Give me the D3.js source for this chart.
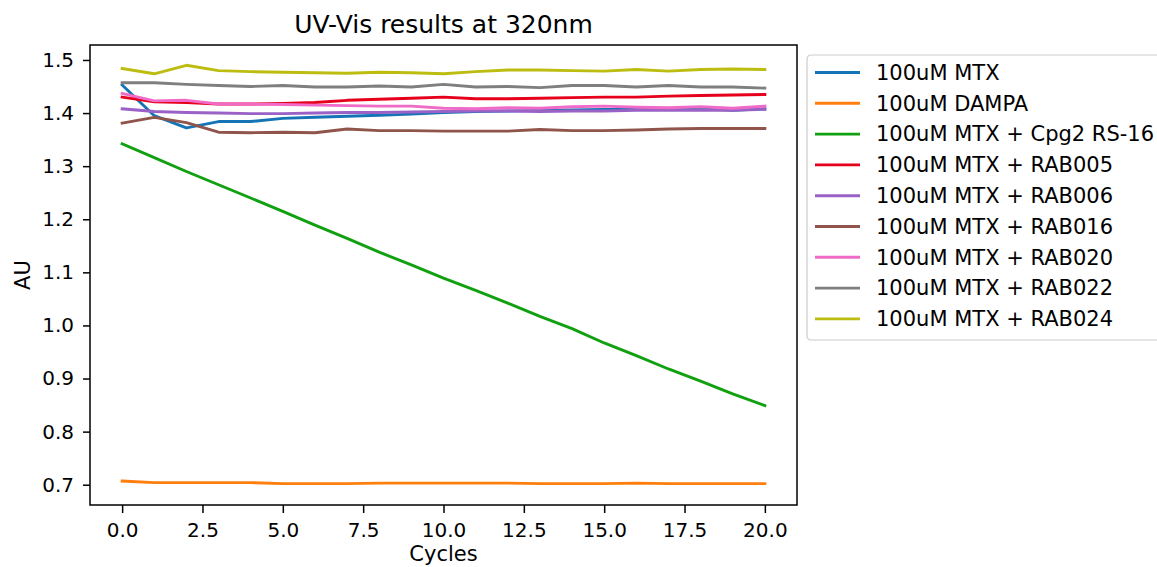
<!DOCTYPE html>
<html>
<head>
<meta charset="utf-8">
<script src="https://cdn.jsdelivr.net/npm/d3@7"></script>
<style>
  body { margin: 0; background: #fff; }
  text { font-family: "DejaVu Sans", sans-serif; fill: #000; }
</style>
</head>
<body>
<svg id="chart"></svg>
<script>
// data
const cycles = [0,1,2,3,4,5,6,7,8,9,10,11,12,13,14,15,16,17,18,19,20];
const yTicks = [0.7,0.8,0.9,1.0,1.1,1.2,1.3,1.4,1.5];
const xTicks = [0,2.5,5,7.5,10,12.5,15,17.5,20];

const mtx    = [1.453,1.395,1.372,1.384,1.384,1.390,1.392,1.394,1.396,1.398,1.401,1.403,1.404,1.405,1.406,1.407,1.407,1.408,1.409,1.405,1.408];
const dampa  = [0.707,0.704,0.704,0.704,0.704,0.702,0.702,0.702,0.703,0.703,0.703,0.703,0.703,0.702,0.702,0.702,0.703,0.702,0.702,0.702,0.702];
const cpg2   = [1.342,1.316,1.290,1.265,1.240,1.215,1.189,1.164,1.138,1.114,1.089,1.066,1.042,1.017,0.994,0.967,0.943,0.918,0.895,0.871,0.849];
const rab005 = [1.430,1.421,1.420,1.417,1.417,1.418,1.420,1.424,1.426,1.428,1.430,1.427,1.427,1.428,1.429,1.430,1.430,1.432,1.433,1.434,1.435];
const rab006 = [1.408,1.403,1.401,1.400,1.399,1.399,1.400,1.401,1.401,1.402,1.403,1.404,1.404,1.403,1.404,1.404,1.405,1.405,1.405,1.405,1.407];
const rab016 = [1.381,1.392,1.382,1.364,1.363,1.364,1.363,1.370,1.367,1.367,1.366,1.366,1.366,1.369,1.367,1.367,1.368,1.370,1.371,1.371,1.371];
const rab020 = [1.437,1.423,1.424,1.417,1.417,1.416,1.415,1.414,1.413,1.413,1.409,1.408,1.410,1.409,1.412,1.413,1.411,1.410,1.412,1.409,1.413];
const rab022 = [1.457,1.457,1.454,1.452,1.450,1.452,1.449,1.449,1.451,1.449,1.454,1.449,1.450,1.448,1.452,1.452,1.449,1.452,1.449,1.449,1.447];
const rab024 = [1.484,1.474,1.490,1.480,1.478,1.477,1.476,1.475,1.477,1.476,1.474,1.478,1.481,1.481,1.480,1.479,1.482,1.479,1.482,1.483,1.482];

const labels = ["100uM MTX","100uM DAMPA","100uM MTX + Cpg2 RS-16","100uM MTX + RAB005","100uM MTX + RAB006",
                "100uM MTX + RAB016","100uM MTX + RAB020","100uM MTX + RAB022","100uM MTX + RAB024"];
const colors = ["#1474b6","#ff7f0e","#10a010","#e6001c","#9a62c6","#8f554b","#f06bc8","#7f7f7f","#bcbd10"];
const series = [mtx,dampa,cpg2,rab005,rab006,rab016,rab020,rab022,rab024];

const width = 1157, height = 567;
const margin = { top: 45, right: 360, bottom: 62, left: 90 };

const svg = d3.select("#chart")
  .attr("width", width)
  .attr("height", height);

const x = d3.scaleLinear()
  .domain([-1, 21])
  .range([margin.left, width - margin.right]);

const y = d3.scaleLinear()
  .domain([0.6618, 1.5282])
  .range([height - margin.bottom, margin.top]);

// lines
const line = d3.line()
  .x((d, i) => x(cycles[i]))
  .y(d => y(d));

svg.append("g")
  .selectAll("path")
  .data(series)
  .join("path")
    .attr("d", line)
    .attr("fill", "none")
    .attr("stroke", (d, i) => colors[i])
    .attr("stroke-width", 2.9)
    .attr("stroke-linejoin", "round")
    .attr("stroke-linecap", "square");

// axes
function yAxis(g) {
  g.attr("transform", `translate(${margin.left},0)`)
    .call(d3.axisLeft(y).tickValues(yTicks).tickFormat(d3.format(".1f")).tickSize(7).tickPadding(9).tickSizeOuter(0))
    .attr("font-size", "20px")
    .attr("font-family", "DejaVu Sans");
  g.select(".domain").remove();
  g.selectAll("line").attr("stroke-width", 1.5);
}

function xAxis(g) {
  g.attr("transform", `translate(0,${height - margin.bottom})`)
    .call(d3.axisBottom(x).tickValues(xTicks).tickFormat(d3.format(".1f")).tickSize(8).tickPadding(9.5).tickSizeOuter(0))
    .attr("font-size", "20px")
    .attr("font-family", "DejaVu Sans");
  g.select(".domain").remove();
  g.selectAll("line").attr("stroke-width", 1.5);
}

svg.append("g").call(xAxis);
svg.append("g").call(yAxis);

// frame
svg.append("rect")
  .attr("x", margin.left)
  .attr("y", margin.top)
  .attr("width", width - margin.right - margin.left)
  .attr("height", height - margin.bottom - margin.top)
  .attr("fill", "none")
  .attr("stroke", "#000")
  .attr("stroke-width", 1.5);

// title and axis labels
svg.append("text")
  .attr("x", (margin.left + width - margin.right) / 2)
  .attr("y", 33)
  .attr("text-anchor", "middle")
  .attr("font-size", "25px")
  .text("UV-Vis results at 320nm");

svg.append("text")
  .attr("x", (margin.left + width - margin.right) / 2)
  .attr("y", 561)
  .attr("text-anchor", "middle")
  .attr("font-size", "21px")
  .text("Cycles");

svg.append("text")
  .attr("transform", `translate(30,${(margin.top + height - margin.bottom) / 2}) rotate(-90)`)
  .attr("text-anchor", "middle")
  .attr("font-size", "21px")
  .text("AU");

// legend
const legend = svg.append("g").attr("transform", "translate(807,55)");

legend.append("rect")
  .attr("x", 0)
  .attr("y", 0)
  .attr("width", 380)
  .attr("height", 285)
  .attr("rx", 4)
  .attr("fill", "#fff")
  .attr("stroke", "#cccccc")
  .attr("stroke-width", 1.2);

const item = legend.selectAll("g.item")
  .data(labels)
  .join("g")
    .attr("class", "item")
    .attr("transform", (d, i) => `translate(0,${17.5 + i * 30.8})`);

item.append("line")
  .attr("x1", 8)
  .attr("x2", 53)
  .attr("stroke", (d, i) => colors[i])
  .attr("stroke-width", 2.9);

item.append("text")
  .attr("x", 69)
  .attr("dy", "0.35em")
  .attr("font-size", "21px")
  .text(d => d);
</script>
</body>
</html>
